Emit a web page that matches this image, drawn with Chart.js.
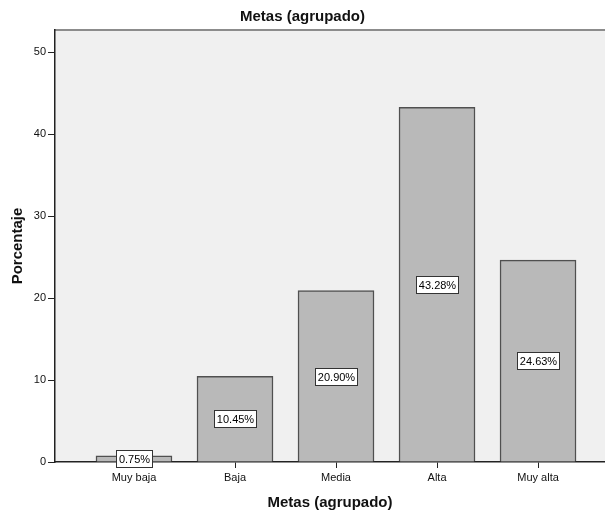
<!DOCTYPE html>
<html>
<head>
<meta charset="utf-8">
<script src="https://cdn.jsdelivr.net/npm/chart.js@4"></script>
<style>
  html, body { margin: 0; padding: 0; background: #fff; }
  #wrap { width: 605px; height: 515px; }
</style>
</head>
<body>
<div id="wrap"><canvas id="metas"></canvas></div>
<script>
const categories = ["Muy baja", "Baja", "Media", "Alta", "Muy alta"];
const porcentajes = [0.75, 10.45, 20.90, 43.28, 24.63];
const yTicks = [0, 10, 20, 30, 40, 50];

const FONT = "'Liberation Sans', Arial, sans-serif";

// gray plot panel with the thin top rule
const plotBackground = {
  id: "plotBackground",
  beforeDraw(chart) {
    const { ctx, chartArea: a } = chart;
    ctx.save();
    ctx.fillStyle = "#f0f0f0";
    ctx.fillRect(a.left, a.top, a.right - a.left, a.bottom - a.top);
    ctx.strokeStyle = "#8c8c8c";
    ctx.lineWidth = 2;
    ctx.beginPath();
    ctx.moveTo(a.left, a.top);
    ctx.lineTo(a.right, a.top);
    ctx.stroke();
    ctx.restore();
  }
};

// boxed percentage in the middle of each bar
const valueBoxes = {
  id: "valueBoxes",
  afterDatasetsDraw(chart) {
    const ctx = chart.ctx;
    const meta = chart.getDatasetMeta(0);
    ctx.save();
    ctx.font = "11px " + FONT;
    ctx.textAlign = "center";
    ctx.textBaseline = "middle";
    meta.data.forEach((bar, i) => {
      const text = porcentajes[i].toFixed(2) + "%";
      const w = Math.round(ctx.measureText(text).width + 5);
      const h = 17;
      const x0 = Math.round(bar.x - w / 2) + 0.5;
      const y0 = Math.round((bar.y + bar.base) / 2 - h / 2) + 0.5;
      ctx.fillStyle = "#fff";
      ctx.fillRect(x0, y0, w, h);
      ctx.strokeStyle = "#333";
      ctx.lineWidth = 1;
      ctx.strokeRect(x0, y0, w, h);
      ctx.fillStyle = "#000";
      ctx.fillText(text, x0 + w / 2, y0 + h / 2 + 1);
    });
    ctx.restore();
  }
};

new Chart(document.getElementById("metas"), {
  type: "bar",
  data: {
    datasets: [{
      label: "Porcentaje",
      data: porcentajes.map((v, i) => ({ x: i, y: v })),
      backgroundColor: "#b9b9b9",
      borderColor: "#505050",
      borderWidth: 1.5,
      barThickness: 76
    }]
  },
  options: {
    responsive: true,
    maintainAspectRatio: false,
    animation: false,
    layout: { padding: 0 },
    plugins: {
      legend: { display: false },
      tooltip: { enabled: false },
      title: {
        display: true,
        text: "Metas (agrupado)",
        color: "#111",
        font: { family: FONT, size: 15, weight: "bold" },
        padding: { top: 8, bottom: 4 }
      }
    },
    scales: {
      x: {
        type: "linear",
        offset: false,
        min: -0.782,
        max: 4.663,
        afterBuildTicks: scale => {
          scale.ticks = categories.map((c, i) => ({ value: i }));
        },
        afterFit: scale => { scale.height = 53; },
        ticks: {
          color: "#111",
          font: { family: FONT, size: 11 },
          padding: 3,
          maxRotation: 0,
          autoSkip: false,
          callback: value => categories[value]
        },
        grid: { offset: false, drawOnChartArea: false, drawTicks: true, tickLength: 6, color: "#222" },
        border: { color: "#222", width: 1.5 },
        title: {
          display: true,
          text: "Metas (agrupado)",
          color: "#111",
          font: { family: FONT, size: 15, weight: "bold" },
          padding: { top: 0, bottom: 3 }
        }
      },
      y: {
        min: 0,
        max: 52.7,
        afterBuildTicks: scale => {
          scale.ticks = yTicks.map(v => ({ value: v }));
        },
        afterFit: scale => { scale.width = 55; },
        ticks: {
          color: "#111",
          font: { family: FONT, size: 11 },
          padding: 2
        },
        grid: { drawOnChartArea: false, drawTicks: true, tickLength: 7, color: "#222" },
        border: { color: "#222", width: 1.5 },
        title: {
          display: true,
          text: "Porcentaje",
          color: "#111",
          font: { family: FONT, size: 15, weight: "bold" },
          padding: { top: 9, bottom: 0 }
        }
      }
    }
  },
  plugins: [plotBackground, valueBoxes]
});
</script>
</body>
</html>
